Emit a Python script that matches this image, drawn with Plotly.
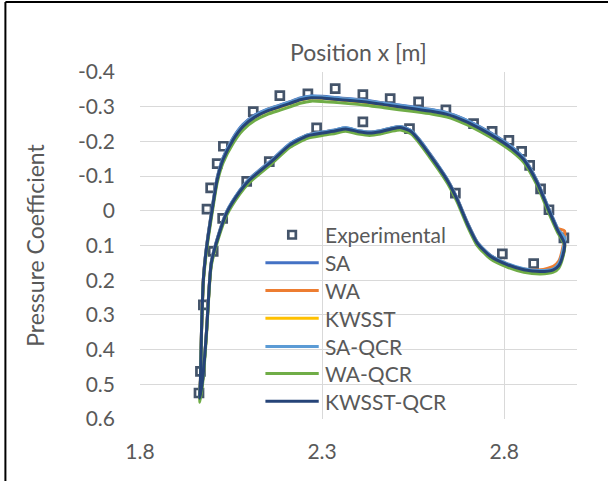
import plotly.graph_objects as go

# Surface stations around the blade: suction side from the leading edge to the
# trailing edge, then the pressure side back to the leading edge.
x_surface = [
    1.964, 1.966, 1.969, 1.974, 1.979, 1.987, 2.001, 2.012, 2.028, 2.056, 2.083,
    2.115, 2.150, 2.185, 2.210, 2.240, 2.270, 2.300, 2.350, 2.414, 2.470, 2.552,
    2.600, 2.643, 2.689, 2.735, 2.781, 2.820, 2.854, 2.891, 2.918, 2.946, 2.966,
    2.962, 2.950, 2.935, 2.900, 2.854, 2.808, 2.762, 2.726, 2.698, 2.671, 2.645,
    2.620, 2.595, 2.570, 2.545, 2.515, 2.490, 2.460, 2.430, 2.400, 2.365, 2.335,
    2.300, 2.260, 2.212, 2.160, 2.100, 2.074, 2.038, 2.015, 1.996, 1.990, 1.983,
    1.972, 1.964,
]

cp_sa = [
    0.538, 0.485, 0.341, 0.196, 0.136, 0.069, -0.028, -0.096, -0.153, -0.211, -0.249,
    -0.276, -0.293, -0.305, -0.314, -0.325, -0.331, -0.330, -0.325, -0.319, -0.311, -0.299,
    -0.292, -0.283, -0.265, -0.241, -0.213, -0.185, -0.152, -0.085, -0.018, 0.049, 0.090,
    0.120, 0.155, 0.168, 0.173, 0.168, 0.153, 0.128, 0.090, 0.031, -0.036, -0.089,
    -0.129, -0.166, -0.202, -0.231, -0.243, -0.239, -0.231, -0.227, -0.231, -0.239, -0.233,
    -0.227, -0.219, -0.194, -0.145, -0.092, -0.059, 0.002, 0.070, 0.146, 0.217, 0.341,
    0.485, 0.538,
]
cp_wa = [
    0.540, 0.486, 0.342, 0.197, 0.138, 0.071, -0.025, -0.093, -0.150, -0.208, -0.246,
    -0.273, -0.291, -0.303, -0.312, -0.323, -0.329, -0.328, -0.323, -0.317, -0.309, -0.297,
    -0.290, -0.281, -0.263, -0.239, -0.211, -0.183, -0.150, -0.083, -0.016, 0.050, 0.058,
    0.100, 0.145, 0.160, 0.170, 0.168, 0.153, 0.129, 0.091, 0.033, -0.034, -0.087,
    -0.127, -0.164, -0.200, -0.230, -0.242, -0.238, -0.230, -0.226, -0.230, -0.238, -0.232,
    -0.226, -0.218, -0.192, -0.143, -0.090, -0.057, 0.004, 0.072, 0.148, 0.219, 0.342,
    0.486, 0.540,
]
cp_kwsst = [
    0.541, 0.488, 0.344, 0.200, 0.141, 0.075, -0.021, -0.089, -0.146, -0.204, -0.242,
    -0.269, -0.287, -0.299, -0.308, -0.319, -0.325, -0.324, -0.319, -0.313, -0.305, -0.293,
    -0.286, -0.277, -0.259, -0.235, -0.207, -0.179, -0.146, -0.079, -0.012, 0.055, 0.096,
    0.126, 0.159, 0.171, 0.176, 0.171, 0.156, 0.132, 0.094, 0.036, -0.031, -0.084,
    -0.124, -0.161, -0.197, -0.227, -0.239, -0.235, -0.227, -0.223, -0.227, -0.235, -0.229,
    -0.223, -0.215, -0.189, -0.140, -0.087, -0.054, 0.007, 0.075, 0.151, 0.221, 0.344,
    0.488, 0.541,
]
cp_sa_qcr = [
    0.539, 0.486, 0.342, 0.197, 0.137, 0.070, -0.026, -0.094, -0.151, -0.209, -0.247,
    -0.274, -0.292, -0.304, -0.313, -0.324, -0.330, -0.329, -0.324, -0.318, -0.310, -0.298,
    -0.291, -0.282, -0.264, -0.240, -0.212, -0.184, -0.151, -0.084, -0.017, 0.050, 0.078,
    0.110, 0.152, 0.167, 0.172, 0.167, 0.152, 0.128, 0.090, 0.032, -0.035, -0.088,
    -0.128, -0.165, -0.201, -0.231, -0.243, -0.239, -0.231, -0.227, -0.231, -0.239, -0.233,
    -0.227, -0.219, -0.193, -0.144, -0.091, -0.058, 0.003, 0.071, 0.147, 0.218, 0.342,
    0.486, 0.539,
]
cp_wa_qcr = [
    0.552, 0.497, 0.352, 0.207, 0.149, 0.083, -0.013, -0.081, -0.138, -0.195, -0.233,
    -0.260, -0.278, -0.290, -0.299, -0.310, -0.316, -0.315, -0.311, -0.305, -0.297, -0.286,
    -0.279, -0.270, -0.252, -0.228, -0.200, -0.172, -0.139, -0.072, -0.005, 0.061, 0.100,
    0.131, 0.165, 0.177, 0.182, 0.177, 0.162, 0.138, 0.100, 0.042, -0.025, -0.078,
    -0.118, -0.155, -0.191, -0.221, -0.233, -0.229, -0.221, -0.217, -0.221, -0.229, -0.223,
    -0.217, -0.209, -0.183, -0.134, -0.081, -0.048, 0.013, 0.081, 0.157, 0.227, 0.352,
    0.497, 0.552,
]
cp_kwsst_qcr = [
    0.540, 0.487, 0.343, 0.199, 0.140, 0.074, -0.022, -0.090, -0.147, -0.205, -0.243,
    -0.270, -0.288, -0.300, -0.309, -0.320, -0.326, -0.325, -0.320, -0.314, -0.306, -0.294,
    -0.287, -0.278, -0.260, -0.236, -0.208, -0.180, -0.147, -0.080, -0.013, 0.054, 0.095,
    0.125, 0.158, 0.170, 0.175, 0.170, 0.155, 0.131, 0.093, 0.035, -0.032, -0.085,
    -0.125, -0.162, -0.198, -0.228, -0.240, -0.236, -0.228, -0.224, -0.228, -0.236, -0.230,
    -0.224, -0.216, -0.190, -0.141, -0.088, -0.055, 0.006, 0.074, 0.150, 0.220, 0.343,
    0.487, 0.540,
]

# Measured pressure taps
exp_x = [
    1.962, 1.966, 1.974, 1.984, 1.994, 2.012, 2.029, 2.111, 2.184, 2.261, 2.336,
    2.412, 2.487, 2.565, 2.640, 2.716, 2.767, 2.813, 2.848, 2.870, 2.900, 2.923,
    2.964, 2.001, 2.027, 2.093, 2.155, 2.285, 2.412, 2.540, 2.666, 2.795, 2.881,
]
exp_cp = [
    0.525, 0.463, 0.271, -0.005, -0.066, -0.136, -0.186, -0.286, -0.332, -0.337, -0.352,
    -0.335, -0.323, -0.314, -0.291, -0.251, -0.229, -0.203, -0.171, -0.131, -0.063, -0.003,
    0.078, 0.117, 0.022, -0.085, -0.142, -0.239, -0.256, -0.237, -0.051, 0.124, 0.152,
]

model_names = ["SA", "WA", "KWSST", "SA-QCR", "WA-QCR", "KWSST-QCR"]
model_cp = [cp_sa, cp_wa, cp_kwsst, cp_sa_qcr, cp_wa_qcr, cp_kwsst_qcr]
model_colors = ["#4472C4", "#ED7D31", "#FFC000", "#5B9BD5", "#70AD47", "#264478"]
exp_name = "Experimental"
exp_color = "#44546A"

x_ticks = [1.8, 2.3, 2.8]
x_ticktext = ["1.8", "2.3", "2.8"]
y_ticks = [-0.4, -0.3, -0.2, -0.1, 0.0, 0.1, 0.2, 0.3, 0.4, 0.5, 0.6]
y_ticktext = ["-0.4", "-0.3", "-0.2", "-0.1", "0", "0.1", "0.2", "0.3", "0.4", "0.5", "0.6"]

FONT = "Lato, 'Open Sans', sans-serif"
TEXT_GREY = "#595959"
GRID = "#D9D9D9"
FS = 21
FS_TITLE = 23

fig = go.Figure()

fig.add_trace(go.Scatter(
    x=exp_x, y=exp_cp, mode="markers", name=exp_name, showlegend=False,
    marker=dict(symbol="square-open", size=8, color=exp_color,
                line=dict(width=2.7, color=exp_color)),
))

for name, cp, color in zip(model_names, model_cp, model_colors):
    fig.add_trace(go.Scatter(
        x=x_surface, y=cp, mode="lines", name=name, showlegend=False,
        line=dict(color=color, width=3, shape="spline", smoothing=0.6),
    ))

# Hand-placed legend inside the plot area (paper coordinates)
leg_line_x0, leg_line_x1 = 0.287, 0.409
leg_text_x = 0.418
leg_rows = [0.531, 0.450, 0.370, 0.290, 0.209, 0.131, 0.051]
shapes = []
annotations = []

mx, my = 0.348, leg_rows[0]
shapes.append(dict(type="rect", xref="paper", yref="paper",
                   x0=mx - 0.0086, x1=mx + 0.0086, y0=my - 0.0108, y1=my + 0.0108,
                   line=dict(color=exp_color, width=2.7), fillcolor="rgba(0,0,0,0)"))
annotations.append(dict(text=exp_name, xref="paper", yref="paper", x=leg_text_x,
                        y=leg_rows[0], xanchor="left", yanchor="middle", showarrow=False,
                        font=dict(family=FONT, size=FS, color=TEXT_GREY)))
for name, color, ry in zip(model_names, model_colors, leg_rows[1:]):
    shapes.append(dict(type="line", xref="paper", yref="paper",
                       x0=leg_line_x0, x1=leg_line_x1, y0=ry, y1=ry,
                       line=dict(color=color, width=3)))
    annotations.append(dict(text=name, xref="paper", yref="paper", x=leg_text_x,
                            y=ry, xanchor="left", yanchor="middle", showarrow=False,
                            font=dict(family=FONT, size=FS, color=TEXT_GREY)))

# Axis titles
annotations.append(dict(text="Position x [m]", xref="paper", yref="paper", x=0.5,
                        y=1.058, xanchor="center", yanchor="middle", showarrow=False,
                        font=dict(family=FONT, size=FS_TITLE, color=TEXT_GREY)))
annotations.append(dict(text="Pressure Coefficient", xref="paper", yref="paper",
                        x=-0.242, y=0.5, xanchor="center", yanchor="middle",
                        textangle=-90, showarrow=False,
                        font=dict(family=FONT, size=FS_TITLE, color=TEXT_GREY)))

# Chart-area frame
shapes.append(dict(type="line", xref="paper", yref="paper", x0=-0.308, x1=1.2,
                   y0=1.202, y1=1.202, line=dict(color="black", width=2)))
shapes.append(dict(type="line", xref="paper", yref="paper", x0=-0.308, x1=-0.308,
                   y0=-0.4, y1=1.202, line=dict(color="black", width=2)))

fig.update_layout(
    width=608, height=481,
    margin=dict(l=140, r=31, t=72, b=62),
    paper_bgcolor="white", plot_bgcolor="white",
    font=dict(family=FONT, size=FS, color=TEXT_GREY),
    showlegend=False,
    shapes=shapes, annotations=annotations,
)
fig.update_xaxes(
    range=[1.8, 3.0], tickvals=x_ticks, ticktext=x_ticktext,
    showgrid=True, gridcolor=GRID, gridwidth=1.3, zeroline=False,
    showline=False, ticks="", ticklabelstandoff=18,
    tickfont=dict(family=FONT, size=FS, color=TEXT_GREY),
)
fig.update_yaxes(
    range=[0.6, -0.4], tickvals=y_ticks, ticktext=y_ticktext,
    showgrid=True, gridcolor=GRID, gridwidth=1.3, zeroline=False,
    showline=False, ticks="", ticklabelstandoff=24,
    tickfont=dict(family=FONT, size=FS, color=TEXT_GREY),
)

fig.write_html("out.html")
